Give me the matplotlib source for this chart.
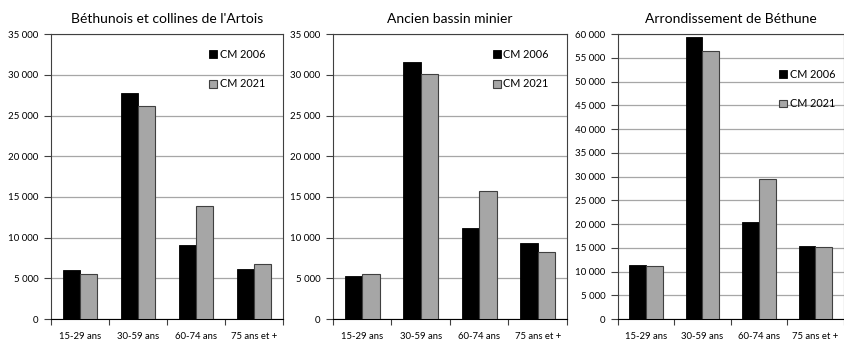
import matplotlib.pyplot as plt
import numpy as np
from matplotlib.ticker import FuncFormatter, FixedLocator

plt.rcParams['font.family'] = ['Lato', 'DejaVu Sans']

categories = ['15-29 ans', '30-59 ans', '60-74 ans', '75 ans et +']
titles = ["Béthunois et collines de l'Artois", 'Ancien bassin minier', 'Arrondissement de Béthune']

cm2006_artois = [6000, 27750, 9150, 6200]
cm2021_artois = [5600, 26150, 13850, 6800]
cm2006_bassin = [5350, 31550, 11250, 9300]
cm2021_bassin = [5600, 30150, 15700, 8300]
cm2006_bethune = [11400, 59400, 20400, 15400]
cm2021_bethune = [11100, 56400, 29600, 15100]

series = [(cm2006_artois, cm2021_artois), (cm2006_bassin, cm2021_bassin),
          (cm2006_bethune, cm2021_bethune)]
ymax = [35000, 35000, 60000]
ystep = [5000, 5000, 5000]

# axes rectangles in figure fraction, and legend anchors in axes fraction
rects = [(0.0604, 0.067, 0.2746, 0.833),
         (0.394, 0.067, 0.277, 0.833),
         (0.731, 0.067, 0.2675, 0.833)]
legend_pos = [(0.955, 0.975), (0.955, 0.975), (0.995, 0.905)]

fig = plt.figure(figsize=(8.45, 3.42), dpi=100)
x = np.arange(len(categories))
w = 0.3


def thousands(v, pos):
    return f'{int(v):,}'.replace(',', ' ')


for i in range(3):
    ax = fig.add_axes(rects[i])
    a, b = series[i]
    ax.bar(x - w / 2, a, w, color='black', edgecolor='black', linewidth=0.6,
           label='CM 2006', zorder=3)
    ax.bar(x + w / 2, b, w, color='#a6a6a6', edgecolor='#404040', linewidth=0.8,
           label='CM 2021', zorder=3)
    ax.set_xlim(-0.5, len(categories) - 0.5)
    ax.set_ylim(0, ymax[i])
    ax.set_yticks(np.arange(0, ymax[i] + 1, ystep[i]))
    ax.yaxis.set_major_formatter(FuncFormatter(thousands))
    ax.set_xticks(x)
    ax.set_xticklabels(categories)
    ax.xaxis.set_minor_locator(FixedLocator(np.arange(-0.5, len(categories), 1.0)))
    ax.tick_params(axis='x', which='major', length=0, labelsize=6.8, pad=9)
    ax.tick_params(axis='x', which='minor', length=4, width=0.8, color='#404040')
    ax.tick_params(axis='y', length=5, width=0.8, color='#404040', labelsize=7, pad=4)
    ax.grid(axis='y', color='#a6a6a6', linewidth=0.9, zorder=0)
    for s in ax.spines.values():
        s.set_color('#404040')
        s.set_linewidth(0.8)
    ax.spines['bottom'].set_color('black')
    ax.set_title(titles[i], fontsize=10, pad=8)
    ax.legend(loc='upper right', bbox_to_anchor=legend_pos[i], frameon=False,
              fontsize=7.8, handlelength=0.75, handleheight=0.75,
              handletextpad=0.25, labelspacing=1.7, borderpad=0.2)

fig.savefig('out.png', dpi=100)
